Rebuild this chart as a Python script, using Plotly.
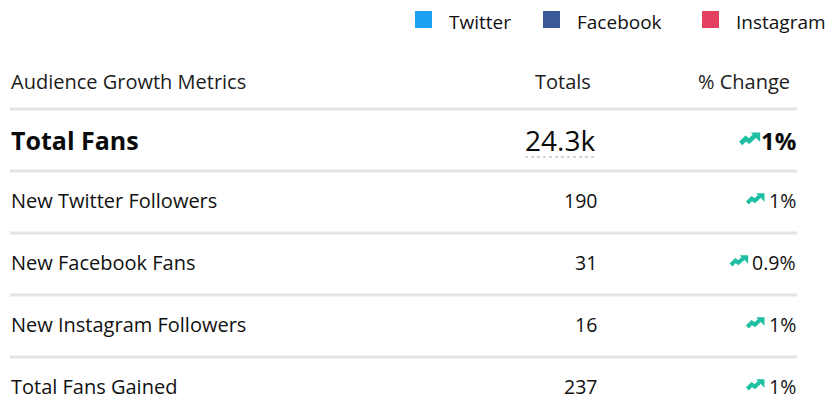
import plotly.graph_objects as go

# ---- data ----
metrics = ["Total Fans", "New Twitter Followers", "New Facebook Fans",
           "New Instagram Followers", "Total Fans Gained"]
totals = ["24.3k", "190", "31", "16", "237"]
pct_change = ["1%", "1%", "0.9%", "1%", "1%"]
header_labels = ["Audience Growth Metrics", "Totals", "% Change"]
legend_names = ["Twitter", "Facebook", "Instagram"]
legend_colors = ["#1da1f2", "#3b5998", "#e4405f"]

# ---- layout constants ----
W, H = 826, 401
FONT = "Open Sans"
TEXT = "#111111"
LINE = "#e1e3e4"
TEAL = "#1fbfa3"
LEFT, RIGHT = 10, 797
TOTAL_R = 598
HEADER_Y = 81
ROW0_Y = 140
PITCH = 62
REG = 19.5

fig = go.Figure()
shapes = []
ann = []

# legend
leg_x = [415, 543, 702]
for name, col, x0 in zip(legend_names, legend_colors, leg_x):
    shapes.append(dict(type="rect", x0=x0, x1=x0 + 17, y0=11, y1=28,
                       fillcolor=col, line=dict(width=0), xref="x", yref="y"))
    ann.append(dict(x=x0 + 32, y=22, text=name, xanchor="left", yanchor="middle",
                    showarrow=False, font=dict(family=FONT, size=19, color=TEXT)))

# header
hfont = dict(family=FONT, size=20, color="#1c1c1c")
ann.append(dict(x=LEFT - 1, y=HEADER_Y, text=header_labels[0], xanchor="left",
                yanchor="middle", showarrow=False, font=hfont))
ann.append(dict(x=593, y=HEADER_Y, text=header_labels[1], xanchor="right",
                yanchor="middle", showarrow=False, font=hfont))
ann.append(dict(x=792, y=HEADER_Y, text=header_labels[2], xanchor="right",
                yanchor="middle", showarrow=False, font=hfont))

# separators
for i in range(len(metrics)):
    ysep = ROW0_Y - PITCH / 2 + i * PITCH
    shapes.append(dict(type="line", x0=LEFT, x1=RIGHT, y0=ysep, y1=ysep,
                       line=dict(color=LINE, width=3), xref="x", yref="y"))

# approximate glyph widths (em) to place the trend icon
CW = {"0": 0.57, "1": 0.57, "2": 0.57, "3": 0.57, "4": 0.57, "5": 0.57,
      "6": 0.57, "7": 0.57, "8": 0.57, "9": 0.57, ".": 0.27, "%": 0.84}


def text_w(s, size):
    return sum(CW.get(c, 0.55) for c in s) * size


def icon(xr, yc, sc):
    # trending-up zigzag arrow, right edge xr, vertically centred at yc
    w, h = 21 * sc, 13 * sc
    x0, y0 = xr - w, yc - h / 2
    pts = [(1.5, 11), (6.5, 6), (10, 8.5), (15.5, 3.5)]
    path = "M " + " L ".join(f"{x0 + px * sc:.2f},{y0 + py * sc:.2f}" for px, py in pts)
    shapes.append(dict(type="path", path=path, line=dict(color=TEAL, width=4.6 * sc),
                       xref="x", yref="y"))
    tri = [(11.5, 0), (21, 0), (21, 9.5)]
    tpath = "M " + " L ".join(f"{x0 + px * sc:.2f},{y0 + py * sc:.2f}" for px, py in tri) + " Z"
    shapes.append(dict(type="path", path=tpath, fillcolor=TEAL, line=dict(width=0),
                       xref="x", yref="y"))


for i, (m, t, p) in enumerate(zip(metrics, totals, pct_change)):
    y = ROW0_Y + i * PITCH - (0 if i == 0 else 2)
    if i == 0:
        f_lab = dict(family=FONT, size=25, color="#0a0a0a", weight="bold")
        f_val = dict(family=FONT, size=28, color="#0a0a0a", weight=500)
        f_pct = dict(family=FONT, size=24, color="#0a0a0a", weight="bold")
        ann.append(dict(x=LEFT - 1, y=y, text=m, xanchor="left", yanchor="middle",
                        showarrow=False, font=f_lab))
        ann.append(dict(x=TOTAL_R - 1, y=y, text=t, xanchor="right", yanchor="middle",
                        showarrow=False, font=f_val))
        shapes.append(dict(type="line", x0=525, x1=595, y0=157, y1=157,
                           line=dict(color="#d4d4d4", width=2, dash="dot"),
                           xref="x", yref="y"))
        ann.append(dict(x=RIGHT + 1, y=y, text=p, xanchor="right", yanchor="middle",
                        showarrow=False, font=f_pct))
        icon(RIGHT - text_w(p, 24) - 3, y - 1, 1.0)
    else:
        f_lab = dict(family=FONT, size=20, color=TEXT)
        f = dict(family=FONT, size=REG, color=TEXT)
        ann.append(dict(x=LEFT - 1, y=y, text=m, xanchor="left", yanchor="middle",
                        showarrow=False, font=f_lab))
        ann.append(dict(x=TOTAL_R + 1, y=y, text=t, xanchor="right", yanchor="middle",
                        showarrow=False, font=f))
        ann.append(dict(x=RIGHT + 1, y=y, text=p, xanchor="right", yanchor="middle",
                        showarrow=False, font=f))
        icon(RIGHT - text_w(p, REG) - 5, y - 1, 0.88)

fig.update_layout(
    width=W, height=H,
    margin=dict(l=0, r=0, t=0, b=0),
    paper_bgcolor="white", plot_bgcolor="white",
    xaxis=dict(range=[0, W], visible=False, fixedrange=True),
    yaxis=dict(range=[H, 0], visible=False, fixedrange=True),
    shapes=shapes, annotations=ann, showlegend=False,
)
fig.write_html(
    "out.html",
    config={"displayModeBar": False},
    post_script="document.body.style.margin='0';document.body.style.overflow='hidden';",
)
